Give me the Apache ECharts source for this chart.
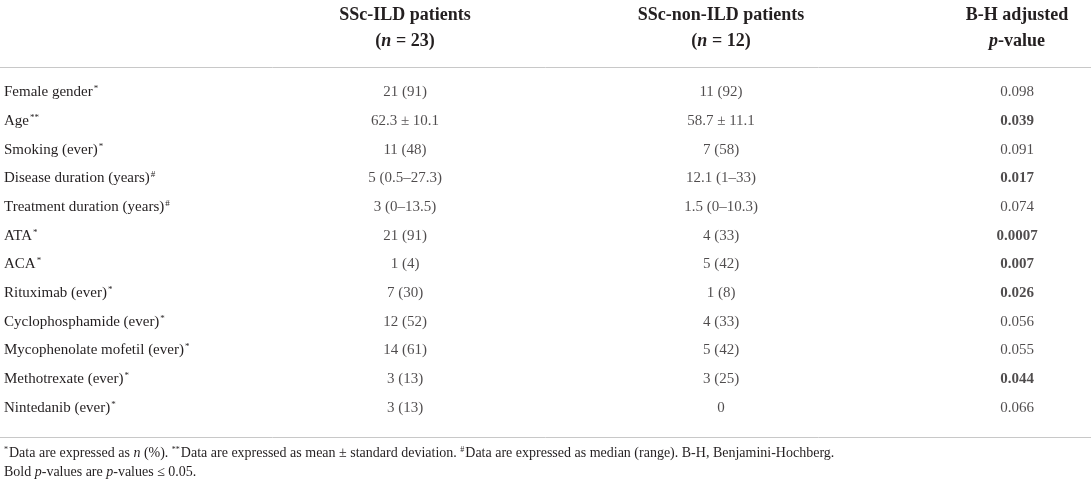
<!DOCTYPE html>
<html>
<head>
<meta charset="utf-8">
<script src="https://cdn.jsdelivr.net/npm/echarts@6/dist/echarts.min.js"></script>
<style>
  html, body { margin: 0; padding: 0; background: #fff; }
  #chart { width: 1091px; height: 484px; }
</style>
</head>
<body>
<div id="chart"></div>
<script>
// table contents
const rowLabels = [
    'Female gender', 'Age', 'Smoking (ever)', 'Disease duration (years)',
    'Treatment duration (years)', 'ATA', 'ACA', 'Rituximab (ever)',
    'Cyclophosphamide (ever)', 'Mycophenolate mofetil (ever)',
    'Methotrexate (ever)', 'Nintedanib (ever)',
];
const rowMarks = ['*', '**', '*', '#', '#', '*', '*', '*', '*', '*', '*', '*'];
const ildValues = [
    '21 (91)', '62.3 ± 10.1', '11 (48)', '5 (0.5–27.3)', '3 (0–13.5)', '21 (91)',
    '1 (4)', '7 (30)', '12 (52)', '14 (61)', '3 (13)', '3 (13)',
];
const nonIldValues = [
    '11 (92)', '58.7 ± 11.1', '7 (58)', '12.1 (1–33)', '1.5 (0–10.3)', '4 (33)',
    '5 (42)', '1 (8)', '4 (33)', '5 (42)', '3 (25)', '0',
];
const pValues = [
    '0.098', '0.039', '0.091', '0.017', '0.074', '0.0007',
    '0.007', '0.026', '0.056', '0.055', '0.044', '0.066',
];
const headers = [
    ['SSc-ILD patients', 'n', ' = 23)'],
    ['SSc-non-ILD patients', 'n', ' = 12)'],
];
const pHeader = ['B-H adjusted', 'p', '-value'];

// layout
const colX = [405, 721, 1017];
const font = 'Liberation Serif';
const ink = '#231f20';
const rule = '#c8c8c8';

const chart = echarts.init(document.getElementById('chart'));

function cellSeries(values, x, boldTest) {
    return {
        type: 'scatter',
        symbolSize: 0,
        silent: true,
        data: values.map((v, i) => {
            const item = { value: [x, i], text: v };
            if (boldTest && boldTest(v)) item.label = { fontWeight: 'bold' };
            return item;
        }),
        label: {
            show: true,
            position: 'inside',
            formatter: (p) => p.data.text,
            color: ink,
            fontFamily: font,
            fontSize: 15,
        },
    };
}

function headerText(value) {
    const idx = colX.indexOf(value);
    if (idx === 2) {
        return `{b|${pHeader[0]}}\n{bi|${pHeader[1]}}{b|${pHeader[2]}}`;
    }
    const h = headers[idx];
    return `{b|${h[0]}}\n{b|(}{bi|${h[1]}}{b|${h[2]}}`;
}

const headRich = {
    b: { fontFamily: font, fontSize: 18, fontWeight: 'bold', color: ink, lineHeight: 26 },
    bi: { fontFamily: font, fontSize: 18, fontWeight: 'bold', fontStyle: 'italic', color: ink, lineHeight: 26 },
};

const noteRich = {
    t: { fontFamily: font, fontSize: 14, fontWeight: 'normal', color: ink, lineHeight: 19 },
    i: { fontFamily: font, fontSize: 14, fontWeight: 'normal', fontStyle: 'italic', color: ink, lineHeight: 19 },
    sup: {
        fontFamily: font, fontSize: 8, fontWeight: 'normal', color: ink,
        lineHeight: 10, verticalAlign: 'top', padding: [2, 1, 0, 0],
    },
};

chart.setOption({
    animation: false,
    title: {
        left: 0,
        top: 444,
        padding: [0, 4],
        text: '{sup|*}{t|Data are expressed as }{i|n}{t| (%). }{sup|**}{t|Data are expressed as mean ± standard deviation. }'
            + '{sup|#}{t|Data are expressed as median (range). B-H, Benjamini-Hochberg.}\n'
            + '{t|Bold }{i|p}{t|-values are }{i|p}{t|-values ≤ 0.05.}',
        textStyle: { fontWeight: 'normal', rich: noteRich },
    },
    grid: { left: 0, right: 0, top: 78, bottom: 62, containLabel: false },
    xAxis: [
        {
            type: 'value',
            min: 0,
            max: 1091,
            position: 'bottom',
            offset: 15,
            axisLine: { show: true, lineStyle: { color: rule, width: 1 } },
            axisTick: { show: false },
            axisLabel: { show: false },
            splitLine: { show: false },
        },
        {
            type: 'value',
            min: 0,
            max: 1091,
            position: 'top',
            offset: 11,
            axisLine: { show: true, lineStyle: { color: rule, width: 1 } },
            axisTick: { show: false },
            splitLine: { show: false },
            axisLabel: {
                show: true,
                customValues: colX,
                margin: 13,
                formatter: headerText,
                rich: headRich,
                align: 'center',
            },
        },
    ],
    yAxis: {
        type: 'category',
        inverse: true,
        data: rowLabels,
        axisLine: { show: false },
        axisTick: { show: false },
        splitLine: { show: false },
        axisLabel: {
            inside: true,
            margin: 4,
            formatter: (v, i) => `{t|${v}}{sup|${rowMarks[i]}}`,
            rich: {
                t: { fontFamily: font, fontSize: 15, color: ink, lineHeight: 20 },
                sup: {
                    fontFamily: font, fontSize: 9, color: ink,
                    lineHeight: 10, verticalAlign: 'top', padding: [2, 0, 0, 1],
                },
            },
        },
    },
    series: [
        cellSeries(ildValues, colX[0]),
        cellSeries(nonIldValues, colX[1]),
        cellSeries(pValues, colX[2], (v) => parseFloat(v) <= 0.05),
    ],
});
</script>
</body>
</html>
